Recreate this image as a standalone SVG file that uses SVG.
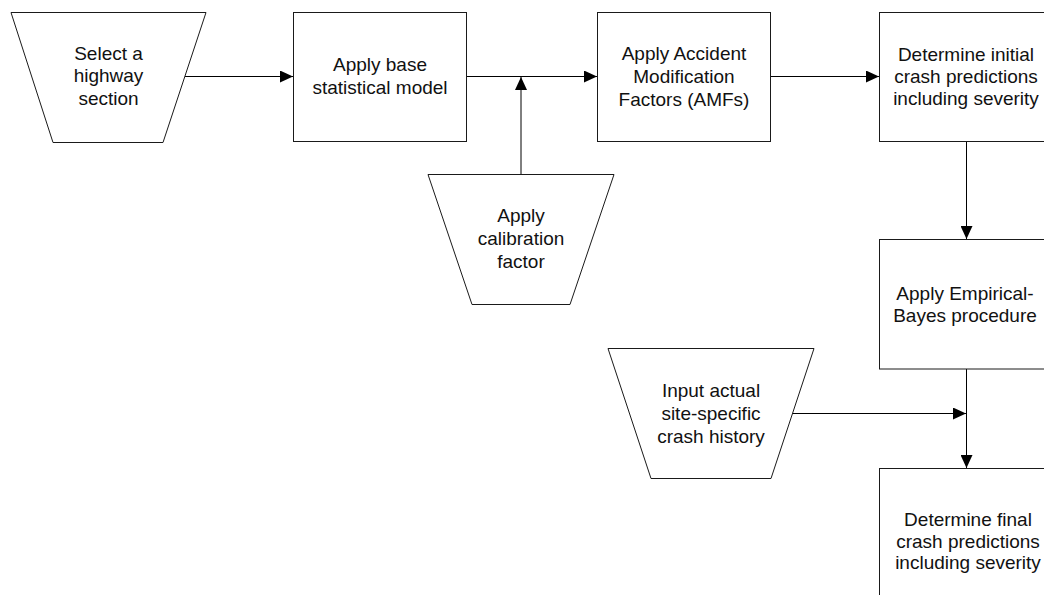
<svg xmlns="http://www.w3.org/2000/svg" width="1044" height="595" viewBox="0 0 1044 595">
  <style>
    .shape { fill: #ffffff; stroke: #1a1a1a; stroke-width: 1; }
    .label { font-family: "Liberation Sans", Arial, sans-serif; font-size: 19px; fill: #111111; text-anchor: middle; }
    .wire { fill: none; stroke: #000000; stroke-width: 1; }
  </style>
  <defs>
    <marker id="arrow" viewBox="0 0 13 12" refX="13" refY="6" markerWidth="13" markerHeight="12" markerUnits="userSpaceOnUse" orient="auto">
      <path d="M0,0 L13,6 L0,12 Z" fill="#000000"/>
    </marker>
  </defs>

  <rect width="1044" height="595" fill="#ffffff"/>

  <!-- connectors -->
  <g id="connectors">
    <line class="wire" x1="185" y1="76.5" x2="293" y2="76.5" marker-end="url(#arrow)"/>
    <line class="wire" x1="467" y1="76.5" x2="597" y2="76.5" marker-end="url(#arrow)"/>
    <line class="wire" x1="521" y1="174" x2="521" y2="77" marker-end="url(#arrow)" stroke="#333333"/>
    <line class="wire" x1="771" y1="76.5" x2="879" y2="76.5" marker-end="url(#arrow)"/>
    <line class="wire" x1="966.5" y1="142" x2="966.5" y2="239" marker-end="url(#arrow)"/>
    <line class="wire" x1="966.5" y1="369" x2="966.5" y2="468" marker-end="url(#arrow)"/>
    <line class="wire" x1="792" y1="413.5" x2="966" y2="413.5" marker-end="url(#arrow)"/>
  </g>

  <!-- input: highway section -->
  <g id="select-section">
    <polygon class="shape" points="11,12.5 206,12.5 163,142.5 53,142.5"/>
    <text class="label" x="108.5" y="59.5">Select a</text>
    <text class="label" x="108.5" y="82">highway</text>
    <text class="label" x="108.5" y="104.5">section</text>
  </g>

  <!-- base statistical model -->
  <g id="base-model">
    <rect class="shape" x="293.5" y="12.5" width="173" height="129"/>
    <text class="label" x="380" y="71">Apply base</text>
    <text class="label" x="380" y="93.5">statistical model</text>
  </g>

  <!-- calibration factor input -->
  <g id="calibration">
    <polygon class="shape" points="428,174.5 614,174.5 570,304.5 472,304.5"/>
    <text class="label" x="521" y="221.5">Apply</text>
    <text class="label" x="521" y="244.5">calibration</text>
    <text class="label" x="521" y="267.5">factor</text>
  </g>

  <!-- accident modification factors -->
  <g id="amfs">
    <rect class="shape" x="597.5" y="12.5" width="173" height="129"/>
    <text class="label" x="684" y="59.5">Apply Accident</text>
    <text class="label" x="684" y="82.5">Modification</text>
    <text class="label" x="684" y="105.5">Factors (AMFs)</text>
  </g>

  <!-- initial crash predictions -->
  <g id="initial-predictions">
    <rect class="shape" x="879.5" y="12.5" width="174" height="129"/>
    <text class="label" x="966" y="61">Determine initial</text>
    <text class="label" x="966" y="83">crash predictions</text>
    <text class="label" x="966" y="105">including severity</text>
  </g>

  <!-- Empirical-Bayes step -->
  <g id="empirical-bayes">
    <rect class="shape" x="879.5" y="239.5" width="174" height="129.5"/>
    <text class="label" x="965" y="300">Apply Empirical-</text>
    <text class="label" x="965" y="322">Bayes procedure</text>
  </g>

  <!-- crash history input -->
  <g id="crash-history">
    <polygon class="shape" points="608,348.5 814,348.5 771,478.5 651,478.5"/>
    <text class="label" x="711" y="397">Input actual</text>
    <text class="label" x="711" y="420">site-specific</text>
    <text class="label" x="711" y="443">crash history</text>
  </g>

  <!-- final crash predictions -->
  <g id="final-predictions">
    <rect class="shape" x="879.5" y="468.5" width="174" height="140"/>
    <text class="label" x="968" y="526">Determine final</text>
    <text class="label" x="968" y="547.5">crash predictions</text>
    <text class="label" x="968" y="569">including severity</text>
  </g>
</svg>
